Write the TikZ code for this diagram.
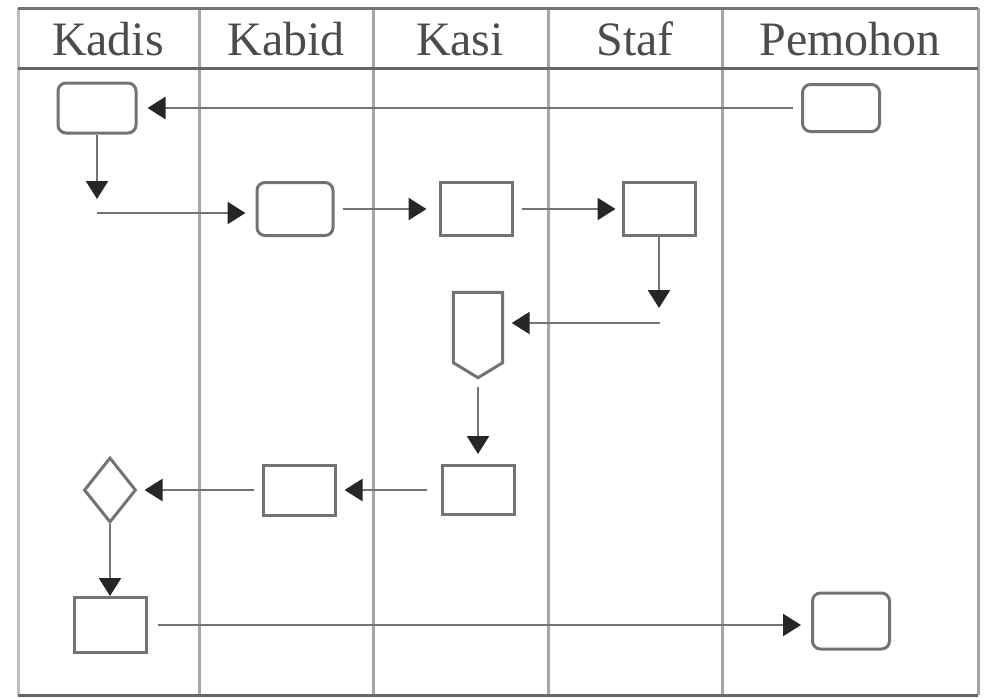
\documentclass[tikz,border=0pt]{standalone}
\usepackage{fontspec}
\setmainfont{Liberation Serif}
\usetikzlibrary{arrows.meta,shapes.geometric}

\begin{document}
\begin{tikzpicture}[x=1pt, y=-1pt,
		lane/.style={line width=3pt, color=black!35},
		head/.style={font=\fontsize{48}{50}\selectfont, text=black!70, anchor=base},
		box/.style={draw=black!55, line width=3pt, fill=white, inner sep=0pt},
		rbox/.style={box, rounded corners=8pt},
		arr/.style={line width=2.5pt, color=black!55, -{Triangle[length=18pt, width=22pt, color=black!85]}},
		ln/.style={line width=2.5pt, color=black!55}]
		%%%%% START %%%%%
		
		\useasboundingbox (0,0) rectangle (995,697);
		
		% lanes
		\draw[line width=3pt, color=black!25] (18,8) -- (18,695);
		\draw[lane] (978,8) -- (978,695);
		\foreach \x in {199,373,548,722}
			\draw[lane] (\x,8) -- (\x,695);
		\draw[line width=3pt, color=black!55] (18,8) -- (978,8);
		\draw[line width=3pt, color=black!60] (18,68) -- (978,68);
		\draw[line width=3pt, color=black!60] (18,695) -- (978,695);
		
		\node[head] (hKadis) at (108,55) {Kadis};
		\node[head] (hKabid) at (286,55) {Kabid};
		\node[head] (hKasi) at (460,55) {Kasi};
		\node[head] (hStaf) at (635,55) {Staf};
		\node[head] (hPemohon) at (850,55) {Pemohon};
		
		% steps
		\node[rbox, minimum width=78pt, minimum height=50pt] (kadisA) at (97,108) {};
		\node[rbox, minimum width=77pt, minimum height=47pt] (pemohonA) at (841,108) {};
		\node[rbox, minimum width=76pt, minimum height=53pt] (kabidA) at (295,209) {};
		\node[box, minimum width=72pt, minimum height=53pt] (kasiA) at (476,209) {};
		\node[box, minimum width=72pt, minimum height=53pt] (stafA) at (659,209) {};
		
		\node[inner sep=0pt, minimum width=49pt, minimum height=85pt] (kasiB) at (478,335) {};
		\draw[draw=black!55, line width=3pt] (kasiB.north west) -- (kasiB.north east)
			-- ([yshift=15pt]kasiB.south east) -- (kasiB.south)
			-- ([yshift=15pt]kasiB.south west) -- cycle;
		
		\node[box, minimum width=72pt, minimum height=49pt] (kasiC) at (478,490) {};
		\node[box, minimum width=72pt, minimum height=50pt] (kabidB) at (299,490) {};
		\node[box, diamond, minimum width=52pt, minimum height=65pt] (kadisD) at (110,490) {};
		\node[box, minimum width=72pt, minimum height=55pt] (kadisE) at (110,625) {};
		\node[rbox, minimum width=77pt, minimum height=56pt] (pemohonB) at (851,621) {};
		
		% flow
		\coordinate (dn1) at (97,199);
		\coordinate (st1) at (97,213);
		\coordinate (dn2) at (659,308);
		\coordinate (st2) at (660,323);
		
		\draw[arr, shorten <=8pt, shorten >=10pt] (pemohonA.west) -- (kadisA.east);
		\draw[arr] (kadisA.south) -- (dn1);
		\draw[arr, shorten >=10pt] (st1) -- (st1 -| kabidA.west);
		\draw[arr, shorten <=8pt, shorten >=12pt] (kabidA.east) -- (kasiA.west);
		\draw[arr, shorten <=8pt, shorten >=6pt] (kasiA.east) -- (stafA.west);
		\draw[arr] (stafA.south) -- (dn2);
		\draw[arr, shorten >=9pt] (st2) -- (st2 -| kasiB.east);
		\draw[arr, shorten <=9pt, shorten >=10pt] (kasiB.south) -- (kasiC.north);
		\draw[arr, shorten <=14pt, shorten >=8pt] (kasiC.west) -- (kabidB.east);
		\draw[arr, shorten <=8pt, shorten >=7pt] (kabidB.west) -- (kadisD.east);
		\draw[arr] (kadisD.south) -- (kadisE.north);
		\draw[arr, shorten <=10pt, shorten >=10pt] (kadisE.east) -- (kadisE.east -| pemohonB.west);
		
		%%%%% END %%%%%
	\end{tikzpicture}
\end{document}
